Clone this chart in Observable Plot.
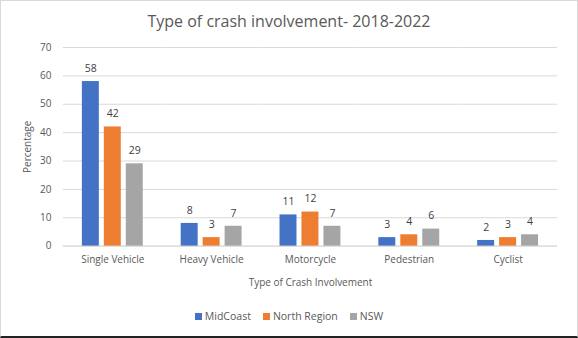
<!DOCTYPE html>
<html>
<head>
<meta charset="utf-8">
<script src="https://cdn.jsdelivr.net/npm/d3@7"></script>
<script src="https://cdn.jsdelivr.net/npm/@observablehq/plot@0.6"></script>
<style>
  html, body { margin: 0; padding: 0; background: #fff; }
  #frame { position: relative; width: 578px; height: 338px; box-sizing: border-box; border: 1px solid #d9d9d9; border-bottom: 2px solid #222; background: #fff; font-family: "Open Sans", sans-serif; overflow: hidden; }
  #title { position: absolute; left: 0; top: 9px; width: 100%; text-align: center; font-size: 16px; color: #595959; }
  #chart { position: absolute; left: -1px; top: 39px; }
  #legend { position: absolute; left: 0; top: 308px; width: 100%; text-align: center; font-size: 10.5px; color: #595959; }
  #legend span.item { margin: 0 6px; }
  #legend span.sw { display: inline-block; width: 7px; height: 7px; margin-right: 3px; vertical-align: 0px; }
</style>
</head>
<body>
<div id="frame">
  <div id="title">Type of crash involvement- 2018-2022</div>
  <div id="chart"></div>
  <div id="legend"></div>
</div>
<script>
const categories = ["Single Vehicle", "Heavy Vehicle", "Motorcycle", "Pedestrian", "Cyclist"];
const seriesNames = ["MidCoast", "North Region", "NSW"];
const midCoast = [58, 8, 11, 3, 2];
const northRegion = [42, 3, 12, 4, 3];
const nsw = [29, 7, 7, 6, 4];
const seriesColors = ["#4472C4", "#ED7D31", "#A5A5A5"];
const yTicks = [0, 10, 20, 30, 40, 50, 60, 70];

const seriesValues = [midCoast, northRegion, nsw];
const data = [];
categories.forEach((c, i) => {
  seriesNames.forEach((s, j) => data.push({category: c, series: s, value: seriesValues[j][i]}));
});

const chart = Plot.plot({
  width: 578,
  height: 255,
  marginLeft: 61,
  marginRight: 18,
  marginTop: 7,
  marginBottom: 49,
  style: {fontFamily: "'Open Sans', sans-serif", fontSize: "10px", color: "#595959", background: "transparent"},
  fx: {domain: categories, padding: 0, axis: "bottom", label: "Type of Crash Involvement", labelAnchor: "center", labelOffset: 40, tickSize: 0, tickPadding: 10},
  x: {domain: seriesNames, paddingInner: 0.24, paddingOuter: 0.86, axis: null},
  y: {domain: [0, 70], ticks: yTicks, grid: true, label: "Percentage", labelArrow: "none", labelAnchor: "center", labelOffset: 40, tickSize: 0, tickPadding: 12},
  color: {domain: seriesNames, range: seriesColors},
  marks: [
    Plot.ruleY([0], {stroke: "#d9d9d9", strokeOpacity: 1}),
    Plot.barY(data, {fx: "category", x: "series", y: "value", fill: "series"}),
    Plot.text(data, {fx: "category", x: "series", y: "value", text: d => String(d.value), dy: -13, fill: "#404040", fontSize: 10.5})
  ]
});
chart.querySelectorAll("text").forEach(t => {
  if (t.textContent.includes("Percentage")) t.textContent = "Percentage";
});
chart.querySelectorAll("[aria-label='y-grid'] line, g[aria-label='y-axis grid'] line").forEach(l => { l.setAttribute("stroke", "#d9d9d9"); l.setAttribute("stroke-opacity", "1"); });
document.getElementById("chart").appendChild(chart);

const legend = document.getElementById("legend");
seriesNames.forEach((s, i) => {
  const item = document.createElement("span");
  item.className = "item";
  const sw = document.createElement("span");
  sw.className = "sw";
  sw.style.background = seriesColors[i];
  item.appendChild(sw);
  item.appendChild(document.createTextNode(s));
  legend.appendChild(item);
});
</script>
</body>
</html>
